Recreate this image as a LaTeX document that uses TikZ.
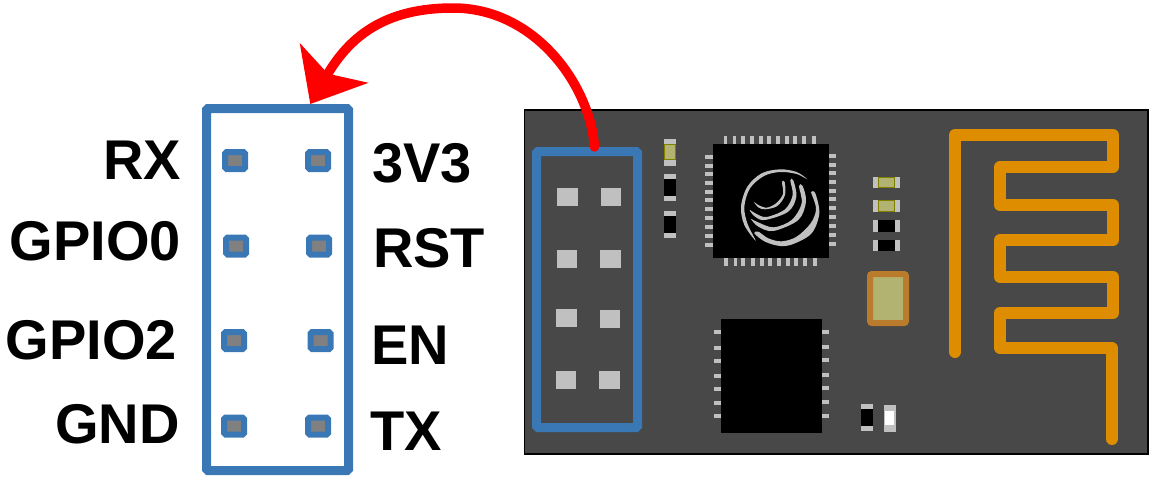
\documentclass[tikz,border=0pt]{standalone}
\usepackage{fontspec}
\setmainfont{Liberation Sans}
\usetikzlibrary{arrows.meta}

\definecolor{boardGrey}{HTML}{484848}
\definecolor{headerBlue}{HTML}{3A78B5}
\definecolor{padGrey}{HTML}{808080}
\definecolor{legGrey}{HTML}{C0C0C0}
\definecolor{antOrange}{HTML}{DF8D00}
\definecolor{copper}{HTML}{BB7B2C}
\definecolor{solder}{HTML}{B3B371}
\definecolor{olive}{HTML}{808000}

\begin{document}
\begin{tikzpicture}
	[
		x=1pt, y=-1pt,
		every node/.style={inner sep=0pt},
		header/.style={
				rectangle,
				line width=9pt,
				rounded corners=1.5pt,
				draw=headerBlue,
			},
		pinPad/.style={
				rectangle,
				minimum width=20pt,
				minimum height=17pt,
				line width=6pt,
				rounded corners=1.5pt,
				draw=headerBlue,
				fill=padGrey,
			},
		boardPad/.style={rectangle, minimum width=20.5pt, minimum height=18pt, fill=legGrey},
		pinLabel/.style={font=\bfseries\fontsize{56}{60}\selectfont},
		legH/.style={rectangle, minimum width=8pt, minimum height=4pt, fill=legGrey},
		legV/.style={rectangle, minimum width=3.8pt, minimum height=8pt, fill=legGrey},
		capV/.style={rectangle, minimum width=12pt, minimum height=27pt, fill=legGrey},
		capH/.style={rectangle, minimum width=27pt, minimum height=11.5pt, fill=legGrey},
		blackV/.style={rectangle, minimum width=12pt, minimum height=17pt, fill=black},
		blackH/.style={rectangle, minimum width=17pt, minimum height=11.5pt, fill=black},
		yellowV/.style={rectangle, minimum width=11pt, minimum height=15.5pt, line width=1pt, draw=olive, fill=solder},
		yellowH/.style={rectangle, minimum width=16pt, minimum height=10.5pt, line width=1pt, draw=olive, fill=solder},
		whiteV/.style={rectangle, minimum width=10pt, minimum height=15.5pt, line width=1pt, draw=legGrey, fill=white},
	]
	\useasboundingbox (0,0) rectangle (1157,480);

	% board
	\node [rectangle, minimum width=623.5pt, minimum height=344pt, line width=1.2pt, draw=black, fill=boardGrey] (board) at (836.25,282) {};

	% pin header, enlarged
	\node [header, minimum width=142pt, minimum height=362pt] (hdrA) at (277.6,289.5) {};
	\foreach \nme/\cx/\cy in {rx/235/160.5, tv/318/160.5, gzero/236/246, rst/319/246, gtwo/234/340.5, en/320.5/340.5, gnd/234/426, tx/318/426}
		\node [pinPad] (\nme) at (\cx,\cy) {};

	\node [pinLabel, anchor=base east] (lrx) at (181,179) {RX};
	\node [pinLabel, anchor=base east] (lgzero) at (181,260) {GPIO0};
	\node [pinLabel, anchor=base east] (lgtwo) at (177,359) {GPIO2};
	\node [pinLabel, anchor=base east] (lgnd) at (180,443) {GND};
	\node [pinLabel, anchor=base west] (ltv) at (372,182) {3V3};
	\node [pinLabel, anchor=base west] (lrst) at (373,267) {RST};
	\node [pinLabel, anchor=base west] (len) at (371,364) {EN};
	\node [pinLabel, anchor=base west] (ltx) at (370,450) {TX};

	% pin header on the board
	\node [header, minimum width=101pt, minimum height=276pt] (hdrB) at (587,289.5) {};
	\foreach \nme/\cx/\cy in {pa/567.5/197, pb/611/197, pc/567/259, pd/610.5/259, pe/566.5/318, pf/610/318.5, pg/566/380, ph/609.5/380}
		\node [boardPad] (\nme) at (\cx,\cy) {};

	% wifi chip
	\foreach \px [count=\i] in {725.5,734.5,743,752,761,769,778,787,795,804,814}
		\node [legV] (wt\i) at (\px,140) {};
	\foreach \px [count=\i] in {726,735.5,743,753,762,770,779,788,796,805,815}
		\node [legV] (wb\i) at (\px,262) {};
	\foreach \py [count=\i] in {157,166,174,183,192,200,209,218,226.5,235.5,245}
		\node [legH] (wl\i) at (709,\py) {};
	\foreach \py [count=\i] in {156,165,173,182,191,199,208,217,225.5,234.5,244}
		\node [legH] (wr\i) at (832,\py) {};
	\node [rectangle, minimum width=116pt, minimum height=114pt, fill=black] (wifi) at (771,201) {};

	\begin{scope}[shift={(690,120)}, x=0.3333pt, y=-0.3333pt]
		\fill [legGrey] plot [smooth cycle, tension=.55] coordinates {(352,178) (320,156) (270,148) (215,160) (172,200) (153,260) (163,315) (197,362) (172,310) (163,260) (180,205) (222,168) (270,156) (320,162)};
		\fill [legGrey] plot [smooth cycle, tension=.55] coordinates {(363,216) (376,220) (388,280) (365,340) (310,372) (270,378) (225,365) (193,340) (205,335) (235,355) (275,364) (320,350) (362,310) (378,270) (370,235)};
		\fill [legGrey] plot [smooth cycle, tension=.55] coordinates {(327,198) (338,198) (348,245) (325,300) (250,333) (205,320) (183,297) (200,305) (250,322) (305,300) (335,250)};
		\fill [legGrey] plot [smooth cycle, tension=.55] coordinates {(301,181) (310,181) (319,230) (295,275) (225,300) (195,290) (179,270) (200,282) (230,291) (285,268) (308,225)};
		\fill [legGrey] plot [smooth cycle, tension=.55] coordinates {(276,186) (284,186) (285,225) (262,258) (225,268) (205,262) (192,246) (205,255) (230,263) (258,250) (279,222)};
	\end{scope}

	% flash chip
	\foreach \py [count=\i] in {332,348,361,376,389,403,416}
		\node [legH] (fl\i) at (718,\py) {};
	\foreach \py [count=\i] in {332,347,360,375,388,402,416}
		\node [legH] (fr\i) at (825,\py) {};
	\node [rectangle, minimum width=101pt, minimum height=114pt, fill=black] (flash) at (771.5,376) {};

	% small parts
	\foreach \nme/\cx/\cy/\body in {ca/670/152/yellowV, cb/670/187.5/blackV, cc/670/224.5/blackV, cd/866.5/417/blackV, ce/889.5/418/whiteV}{
		\node [capV] (\nme) at (\cx,\cy) {};
		\node [\body] (\nme b) at (\cx,\cy) {};
	}
	\foreach \nme/\cx/\cy/\body in {cf/886.5/182.5/yellowH, cg/886/206/yellowH, ch/886.5/226/blackH, ci/886/245.5/blackH}{
		\node [capH] (\nme) at (\cx,\cy) {};
		\node [\body] (\nme b) at (\cx,\cy) {};
	}
	\node [rectangle, minimum width=36pt, minimum height=49pt, line width=6pt, rounded corners=2pt, draw=copper, fill=solder] (xtal) at (888,298.5) {};

	% antenna
	\draw [antOrange, line width=12pt, line join=round, line cap=round]
		(955,352) -- (955,135) -- (1113,135) -- (1113,167) -- (1000,167) -- (1000,205) -- (1113,205)
		-- (1113,240) -- (1000,240) -- (1000,277) -- (1113,277) -- (1113,313) -- (1000,313)
		-- (1000,348) -- (1112,348) -- (1112,439);

	% arrow
	\coordinate (arcTop) at (453,8);
	\draw [-{Stealth[length=47pt, width=78pt, inset=12pt]}, red, line width=9.5pt, line cap=round]
		(hdrB.87.6) .. controls (590,85) and (535,8) .. (arcTop) .. controls (390,8) and (352,32) .. (hdrA.80.7);
\end{tikzpicture}
\end{document}
